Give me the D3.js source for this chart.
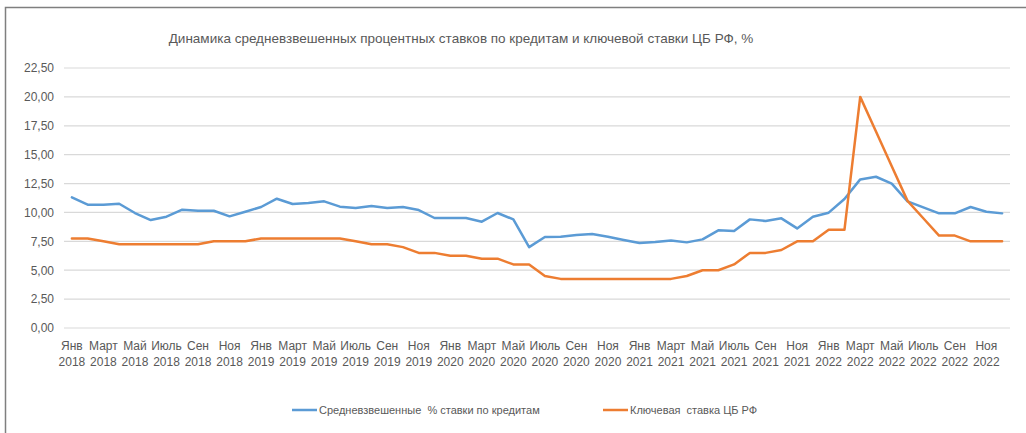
<!DOCTYPE html>
<html><head><meta charset="utf-8">
<script src="https://cdn.jsdelivr.net/npm/d3@7"></script>
<style>body{margin:0;background:#fff}svg{display:block}text{font-family:"Liberation Sans",Arial,sans-serif;fill:#595959}</style>
</head><body>
<svg id="c" width="1026" height="433"></svg>
<script>
const title = "Динамика средневзвешенных процентных ставков по кредитам и ключевой ставки ЦБ РФ, %";
const monthNames = ["Янв","Фев","Март","Апр","Май","Июнь","Июль","Авг","Сен","Окт","Ноя","Дек"];
const years = [2018, 2019, 2020, 2021, 2022];
const yTicks = [0, 2.5, 5, 7.5, 10, 12.5, 15, 17.5, 20, 22.5];
const seriesNames = ["Средневзвешенные  % ставки по кредитам", "Ключевая  ставка ЦБ РФ"];
const loanRates = [
  11.3, 10.67, 10.67, 10.75, 9.95, 9.34, 9.63, 10.24, 10.15, 10.15, 9.66, 10.06,
  10.47, 11.19, 10.73, 10.82, 10.96, 10.5, 10.38, 10.55, 10.38, 10.47, 10.21, 9.52,
  9.52, 9.52, 9.2, 9.95, 9.4, 7.0, 7.87, 7.9, 8.04, 8.13, 7.9, 7.61,
  7.35, 7.44, 7.58, 7.41, 7.67, 8.45, 8.39, 9.4, 9.26, 9.49, 8.62, 9.63,
  9.98, 11.16, 12.86, 13.09, 12.49, 10.96, 10.44, 9.92, 9.92, 10.47, 10.06, 9.92
];
const keyRates = [
  7.75, 7.75, 7.5, 7.25, 7.25, 7.25, 7.25, 7.25, 7.25, 7.5, 7.5, 7.5,
  7.75, 7.75, 7.75, 7.75, 7.75, 7.75, 7.5, 7.25, 7.25, 7.0, 6.5, 6.5,
  6.25, 6.25, 6.0, 6.0, 5.5, 5.5, 4.5, 4.25, 4.25, 4.25, 4.25, 4.25,
  4.25, 4.25, 4.25, 4.5, 5.0, 5.0, 5.5, 6.5, 6.5, 6.75, 7.5, 7.5,
  8.5, 8.5, 20, 17, 14, 11, 9.5, 8, 8, 7.5, 7.5, 7.5
];
const colors = ["#5B9BD5", "#ED7D31"];

const categories = [];
years.forEach(y => monthNames.forEach(m => categories.push(m + " " + y)));

const svg = d3.select("#c");
// outer frame
svg.append("rect").attr("x", 5.5).attr("y", 7.5).attr("width", 1040).attr("height", 450)
  .attr("fill", "none").attr("stroke", "#7f7f7f").attr("stroke-width", 1.5);

const x = d3.scaleBand().domain(categories).range([64, 1010]);
const y = d3.scaleLinear().domain([0, 22.5]).range([328, 68]);
const cx = c => x(c) + x.bandwidth() / 2;

svg.append("text").attr("x", 461).attr("y", 43).attr("text-anchor", "middle")
  .style("font-size", "13.5px").text(title);

// grid
const g = svg.append("g");
g.selectAll("line.grid").data(yTicks).join("line")
  .attr("x1", 64).attr("x2", 1010).attr("y1", d => y(d)).attr("y2", d => y(d))
  .attr("stroke", "#d9d9d9").attr("stroke-width", 1.2);

// y axis labels
const yAxis = d3.axisLeft(y).tickValues(yTicks).tickSize(0).tickPadding(0)
  .tickFormat(d => d.toFixed(2).replace(".", ","));
svg.append("g").attr("transform", "translate(54,0)").call(yAxis)
  .call(s => s.select(".domain").remove())
  .selectAll("text").style("font-size", "12px").attr("fill", "#595959").attr("font-family", null);

// x labels
const xAxis = d3.axisBottom(x).tickValues(categories.filter((c, i) => i % 2 === 0)).tickSize(0).tickFormat("");
const xg = svg.append("g").attr("transform", "translate(0,328)").call(xAxis);
xg.select(".domain").remove();
xg.selectAll(".tick").each(function(d) {
  const t = d3.select(this).select("text").attr("y", 0).attr("dy", null)
    .style("font-size", "12px").attr("fill", "#595959").attr("font-family", null);
  const parts = d.split(" ");
  t.append("tspan").attr("x", 0).attr("y", 21.5).text(parts[0]);
  t.append("tspan").attr("x", 0).attr("y", 37.5).text(parts[1]);
});

// lines
const line = d3.line().x((d, i) => cx(categories[i])).y(d => y(d));
[loanRates, keyRates].forEach((s, k) => {
  svg.append("path").datum(s).attr("d", line).attr("fill", "none")
    .attr("stroke", colors[k]).attr("stroke-width", 2.5).attr("stroke-linejoin", "round").attr("stroke-linecap", "round");
});

// legend
const legendX = [292, 603];
seriesNames.forEach((n, k) => {
  const lg = svg.append("g").attr("transform", `translate(${legendX[k]},410)`);
  lg.append("line").attr("x1", 0).attr("x2", 25).attr("y1", 0).attr("y2", 0)
    .attr("stroke", colors[k]).attr("stroke-width", 2.5);
  lg.append("text").attr("x", 27).attr("y", 4).style("font-size", "11px")
    .style("white-space", "pre").attr("xml:space", "preserve").text(n);
});
</script>
</body></html>
